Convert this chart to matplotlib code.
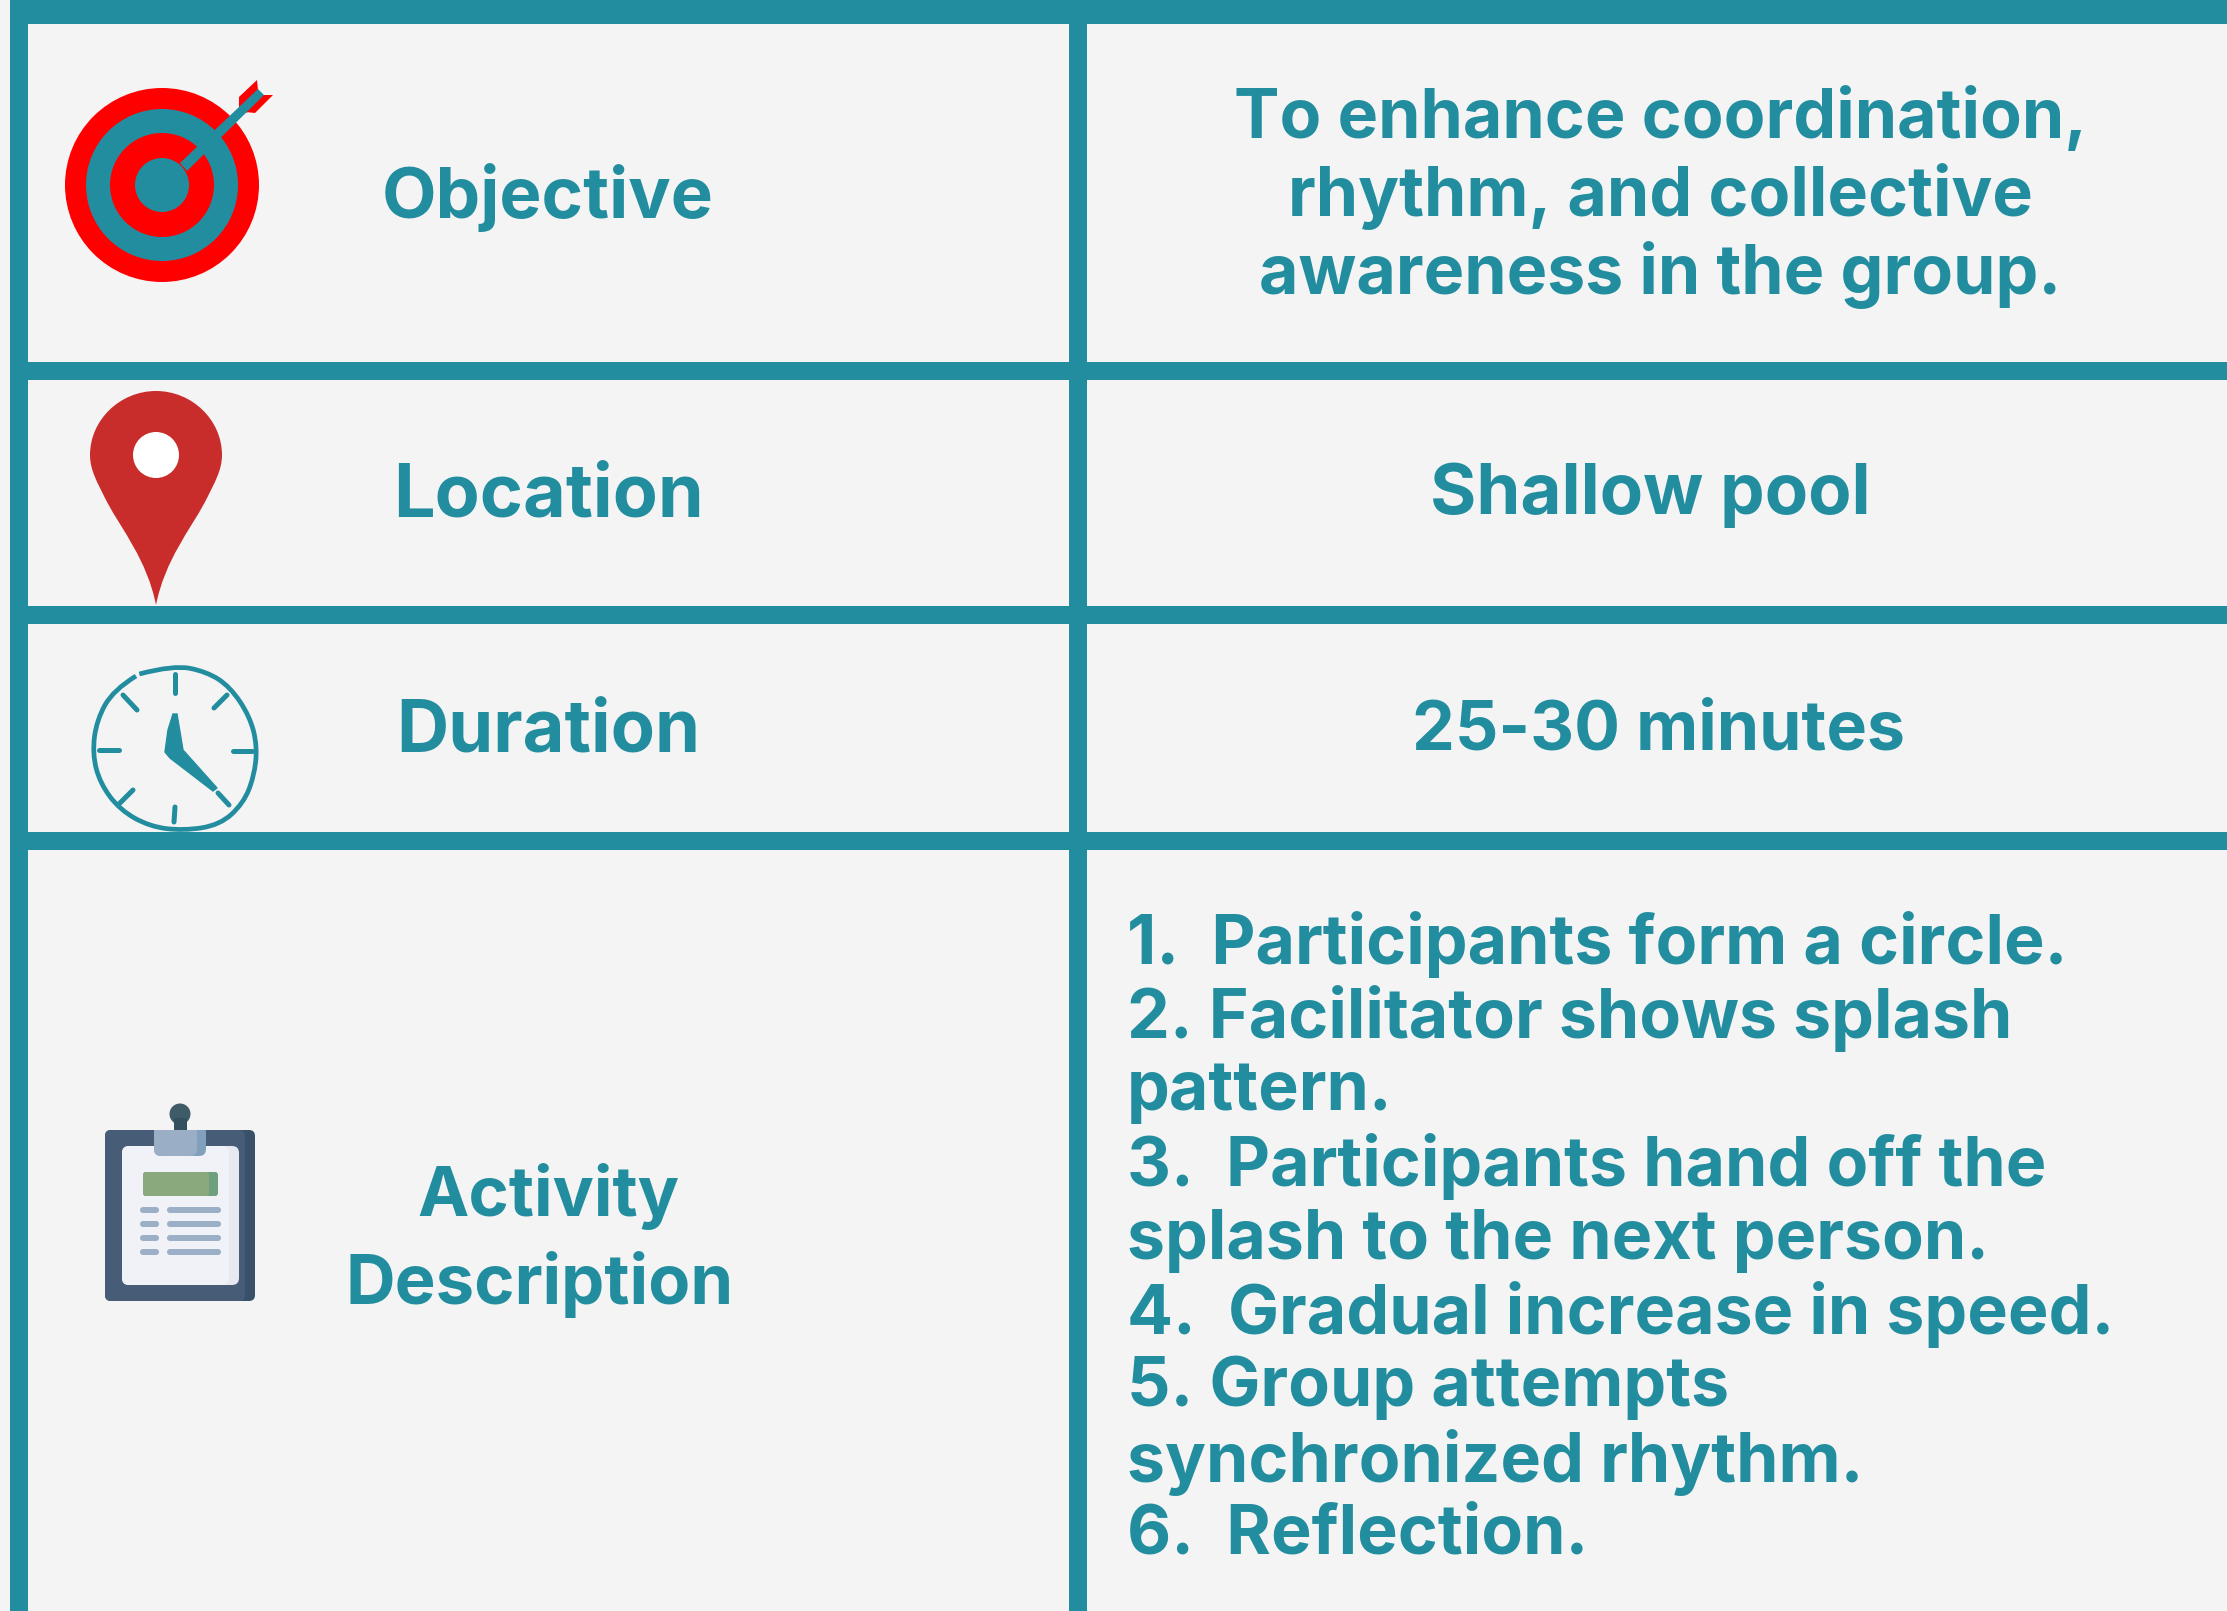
import numpy as np
import matplotlib.pyplot as plt
from matplotlib.patches import Circle, Rectangle, FancyBboxPatch, Polygon, PathPatch
from matplotlib.path import Path

TEAL = "#228D9F"
BG = "#F4F4F4"

row_labels = ["Objective", "Location", "Duration"]
row_label_y = [198, 497, 732]
row_label_fs = [51, 53, 52]
objective_lines = ["To enhance coordination,", "rhythm, and collective", "awareness in the group."]
objective_y = [119, 197, 275]
value_labels = ["Shallow pool", "25-30 minutes"]
value_y = [495, 732]
value_x = [1650, 1659]
value_fs = [51, 49]
activity_lines = ["Activity", "Description"]
activity_x = [548, 540]
activity_y = [1196, 1284]
steps = [
    "1.  Participants form a circle.",
    "2. Facilitator shows splash",
    "pattern.",
    "3.  Participants hand off the",
    "splash to the next person.",
    "4.  Gradual increase in speed.",
    "5. Group attempts",
    "synchronized rhythm.",
    "6.  Reflection.",
]
steps_y = [944, 1018, 1092, 1166, 1241, 1315, 1388, 1462, 1536]

h_bars = [(0, 24), (362, 380), (606, 624), (832, 850)]
v_bars = [(10, 28), (1069, 1087)]
target_radii = [97, 76, 52, 27]
target_colors = ["#FF0000", TEAL, "#FF0000", TEAL]
clock_ring = [
    (268, 912), (370, 885), (470, 905), (540, 950), (600, 1040), (622, 1130), (612, 1220), (580, 1300),
    (510, 1365), (400, 1382), (300, 1370), (210, 1320), (150, 1240), (127, 1150), (140, 1050), (190, 960),
    (258, 918),
]
clock_ticks = [
    ((175, 674), (175, 693)), ((227, 695), (214, 708)), ((233, 751), (252, 751)),
    ((218, 793), (229, 805)), ((175, 807), (174, 822)), ((133, 790), (120, 803)),
    ((99, 750), (119, 750)), ((123, 695), (137, 710)),
]
clip_rows = [1210, 1224, 1238, 1252]

plt.rcParams["font.family"] = ["Inter", "DejaVu Sans"]
fig = plt.figure(figsize=(22.27, 16.11), dpi=100, facecolor=BG)
ax = fig.add_axes([0, 0, 1, 1])
ax.set_xlim(0, 2227)
ax.set_ylim(1611, 0)
ax.axis("off")


def rbox(x0, y0, x1, y1, r, color, z=3):
    ax.add_patch(FancyBboxPatch((x0 + r, y0 + r), x1 - x0 - 2 * r, y1 - y0 - 2 * r,
                                boxstyle=f"round,pad={r},rounding_size={r}",
                                fc=color, ec="none", zorder=z))


for y0, y1 in h_bars:
    ax.add_patch(Rectangle((10, y0), 2217, y1 - y0, fc=TEAL, ec="none", zorder=2))
for x0, x1 in v_bars:
    ax.add_patch(Rectangle((x0, 0), x1 - x0, 1611, fc=TEAL, ec="none", zorder=2))

# target
for r, c in zip(target_radii, target_colors):
    ax.add_patch(Circle((162, 185), r, fc=c, ec="none", zorder=3))
ax.add_patch(Polygon([(239, 97), (257, 80), (258, 90), (247, 113), (239, 107)], fc="#FF0000", ec="none", zorder=3))
ax.add_patch(Polygon([(262, 95), (273, 95), (255, 113), (246, 112)], fc="#FF0000", ec="none", zorder=3))
ax.add_patch(Polygon([(180, 163), (258, 89), (264, 95), (187, 171)], fc=TEAL, ec="none", zorder=4))

# pin
pin = Path(
    [(156, 391), (192, 391), (222, 420), (222, 455), (222, 470), (215, 482), (205, 502),
     (190, 530), (165, 560), (156, 605), (147, 560), (122, 530), (107, 502),
     (97, 482), (90, 470), (90, 455), (90, 420), (120, 391), (156, 391)],
    [Path.MOVETO] + [Path.CURVE4] * 18,
)
ax.add_patch(PathPatch(pin, fc="#C92D2B", ec="none", zorder=3))
ax.add_patch(Circle((156, 455), 23, fc="white", ec="none", zorder=4))

# clock, ring
ring = np.array(clock_ring) / 3 + np.array([50, 370])
verts = [ring[0]]
for i in range(1, len(ring) - 1):
    verts += [ring[i], (ring[i] + ring[i + 1]) / 2]
verts[-1] = ring[-1]
codes = [Path.MOVETO] + [Path.CURVE3] * (len(verts) - 1)
ax.add_patch(PathPatch(Path(verts, codes), fc="none", ec=TEAL, lw=3.4, zorder=3))
for (xa, ya), (xb, yb) in clock_ticks:
    ax.plot([xa, xb], [ya, yb], color=TEAL, lw=3.6, solid_capstyle="round", zorder=3)
ax.add_patch(Polygon([(173, 714), (177, 714), (183, 750), (217, 788), (213, 791),
                      (170, 758), (165, 752), (168, 730)], fc=TEAL, ec=TEAL, lw=1, zorder=3))

# clipboard
ax.add_patch(Circle((180, 1114), 10.5, fc="#3F5B68", ec="none", zorder=3))
ax.add_patch(Rectangle((174, 1118), 13, 13, fc="#33505E", ec="none", zorder=3))
rbox(105, 1130, 255, 1301, 6, "#395069")
rbox(105, 1130, 245, 1301, 6, "#475D77", 3.1)
rbox(122, 1146, 239, 1285, 7, "#E8E8F1", 3.2)
rbox(122, 1146, 229, 1285, 7, "#F0F2F8", 3.3)
rbox(154, 1130, 206, 1156, 7, "#81A0BB", 3.4)
rbox(154, 1130, 197, 1156, 7, "#9AAFC6", 3.5)
ax.add_patch(Rectangle((197, 1130), 9, 10, fc="#81A0BB", ec="none", zorder=3.4))
ax.add_patch(Rectangle((154, 1130), 43, 10, fc="#9AAFC6", ec="none", zorder=3.5))
rbox(143, 1172, 218, 1196, 3, "#6F9F7C", 3.4)
rbox(143, 1172, 209, 1196, 3, "#8AA97D", 3.5)
for y in clip_rows:
    rbox(140, y - 3, 159, y + 3, 3, "#9BB0C6", 3.4)
    rbox(167, y - 3, 221, y + 3, 3, "#9BB0C6", 3.4)

txt = dict(color=TEAL, fontweight="bold", zorder=5, va="center")
for s, y, fs in zip(row_labels, row_label_y, row_label_fs):
    ax.text(548, y, s, ha="center", fontsize=fs, **txt)
for s, y in zip(objective_lines, objective_y):
    ax.text(1660, y, s, ha="center", fontsize=49, **txt)
for s, x, y, fs in zip(value_labels, value_x, value_y, value_fs):
    ax.text(x, y, s, ha="center", fontsize=fs, **txt)
for s, x, y in zip(activity_lines, activity_x, activity_y):
    ax.text(x, y, s, ha="center", fontsize=49.5, **txt)
for s, y in zip(steps, steps_y):
    ax.text(1127, y, s, ha="left", fontsize=49, **txt)

fig.savefig("out.png", dpi=100, facecolor=BG)
